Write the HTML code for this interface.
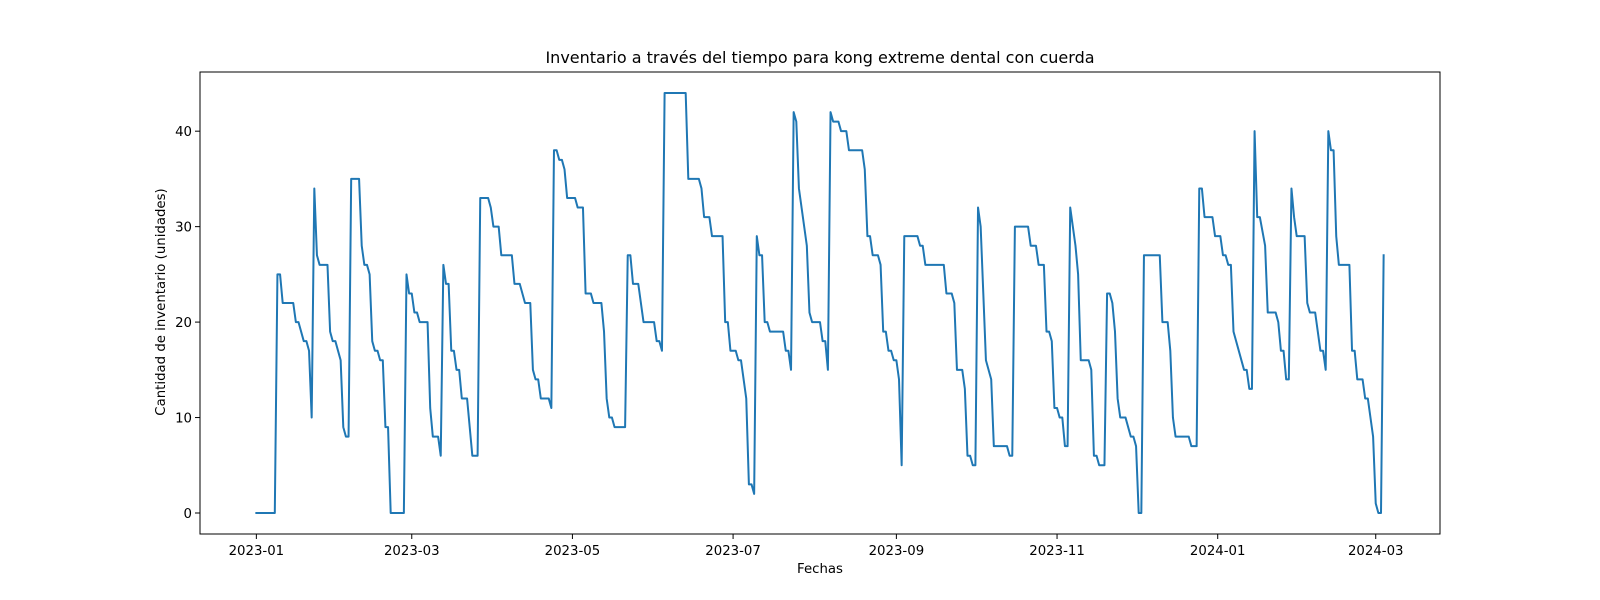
<!DOCTYPE html>
<html><head><meta charset="utf-8"><style>
html,body{margin:0;padding:0;background:#fff;}
svg{display:block;font-family:"DejaVu Sans","Liberation Sans",sans-serif;}
</style></head><body>
<svg id="chart" width="1600" height="600" viewBox="0 0 1600 600" xmlns="http://www.w3.org/2000/svg">
<rect x="0" y="0" width="1600" height="600" fill="#fff"/>
<text x="820" y="63" font-size="16" text-anchor="middle" fill="#000">Inventario a través del tiempo para kong extreme dental con cuerda</text>
<g id="xticks"></g>
<g id="yticks"></g>
<path id="series" fill="none" stroke="#1f77b4" stroke-width="2" stroke-linejoin="round" stroke-linecap="square"/>
<rect x="200" y="72" width="1240" height="462" fill="none" stroke="#000" stroke-width="1"/>
<text x="820" y="573" font-size="13.3" text-anchor="middle">Fechas</text>
<text x="0" y="0" font-size="13.3" text-anchor="middle" transform="translate(165,302) rotate(-90)">Cantidad de inventario (unidades)</text>
</svg>
<script>
const days = [0,7,8,9,10,14,15,16,18,19,20,21,22,23,24,27,28,29,30,32,33,34,35,36,39,40,41,42,43,44,45,46,47,48,49,50,51,56,57,58,59,60,61,62,65,66,67,69,70,71,72,73,74,75,76,77,78,80,82,84,85,88,89,90,92,93,97,98,100,102,104,105,106,107,108,111,112,113,114,115,116,117,118,121,122,124,125,127,128,131,132,133,134,135,136,140,141,142,143,145,147,151,152,153,154,155,163,164,168,169,170,172,173,177,178,179,180,182,183,184,186,187,188,189,190,191,192,193,194,195,200,201,202,203,204,205,206,209,210,211,214,215,216,217,218,219,221,222,224,225,230,231,232,233,234,236,237,238,239,240,241,242,243,244,245,246,251,252,253,254,261,262,264,265,266,268,269,270,271,272,273,274,275,276,277,279,280,285,286,287,288,293,294,296,297,299,300,301,302,303,304,305,306,307,308,309,311,312,313,316,317,318,319,320,322,323,324,325,326,327,328,330,332,333,334,335,336,337,343,344,346,347,348,349,354,355,357,358,359,360,363,364,366,367,368,369,370,371,375,376,377,378,379,380,381,383,384,387,388,389,390,391,392,393,394,395,398,399,400,402,404,405,406,407,408,409,410,411,415,416,417,418,420,421,422,424,425,426,427,428];
const values = [0,0,25,25,22,22,20,20,18,18,17,10,34,27,26,26,19,18,18,16,9,8,8,35,35,28,26,26,25,18,17,17,16,16,9,9,0,0,25,23,23,21,21,20,20,11,8,8,6,26,24,24,17,17,15,15,12,12,6,6,33,33,32,30,30,27,27,24,24,22,22,15,14,14,12,12,11,38,38,37,37,36,33,33,32,32,23,23,22,22,19,12,10,10,9,9,27,27,24,24,20,20,18,18,17,44,44,35,35,34,31,31,29,29,20,20,17,17,16,16,12,3,3,2,29,27,27,20,20,19,19,17,17,15,42,41,34,28,21,20,20,18,18,15,42,41,41,40,40,38,38,36,29,29,27,27,26,19,19,17,17,16,16,14,5,29,29,28,28,26,26,23,23,22,15,15,13,6,6,5,5,32,30,23,16,14,7,7,6,6,30,30,28,28,26,26,19,19,18,11,11,10,10,7,7,32,28,25,16,16,15,6,6,5,5,23,23,22,19,12,10,10,8,8,7,0,0,27,27,20,20,17,10,8,8,7,7,34,34,31,31,29,29,27,27,26,26,19,15,15,13,13,40,31,31,28,21,21,20,17,17,14,14,34,31,29,29,22,21,21,17,17,15,40,38,38,29,26,26,17,17,14,14,12,12,8,1,0,0,27];
const xTickDays = [0,59,120,181,243,304,365,425];
const xTickLabels = ["2023-01","2023-03","2023-05","2023-07","2023-09","2023-11","2024-01","2024-03"];
const yTickValues = [0,10,20,30,40];

const NS = "http://www.w3.org/2000/svg";
const L=200, R=1440, T=72, B=534;
const dMin = -21.4, dMax = 449.4, vMin = -2.2, vMax = 46.2;
function xs(d){ return L + (d - dMin) / (dMax - dMin) * (R - L); }
function ys(v){ return B - (v - vMin) / (vMax - vMin) * (B - T); }

let d = "";
for (let i = 0; i < days.length; i++) d += (i ? "L" : "M") + xs(days[i]).toFixed(2) + "," + ys(values[i]).toFixed(2);
document.getElementById("series").setAttribute("d", d);

const xg = document.getElementById("xticks");
xTickDays.forEach((td, i) => {
  const x = xs(td);
  const ln = document.createElementNS(NS, "line");
  
  
  ln.setAttribute("x1", x); ln.setAttribute("x2", x); ln.setAttribute("y1", B); ln.setAttribute("y2", B + 5);
  ln.setAttribute("stroke", "#000");
  xg.appendChild(ln);
  const t = document.createElementNS(NS, "text");
  
  
  t.setAttribute("x", x); t.setAttribute("y", B + 21); t.setAttribute("font-size", "13.3");
  t.setAttribute("text-anchor", "middle");
  t.textContent = xTickLabels[i];
  xg.appendChild(t);
});
const yg = document.getElementById("yticks");
yTickValues.forEach(v => {
  const y = ys(v);
  const ln = document.createElementNS(NS, "line");
  
  
  ln.setAttribute("x1", L - 5); ln.setAttribute("x2", L); ln.setAttribute("y1", y); ln.setAttribute("y2", y);
  ln.setAttribute("stroke", "#000");
  yg.appendChild(ln);
  const t = document.createElementNS(NS, "text");
  
  
  t.setAttribute("x", L - 8); t.setAttribute("y", y + 5); t.setAttribute("font-size", "13.3");
  t.setAttribute("text-anchor", "end");
  t.textContent = String(v);
  yg.appendChild(t);
});
</script>
</body></html>
